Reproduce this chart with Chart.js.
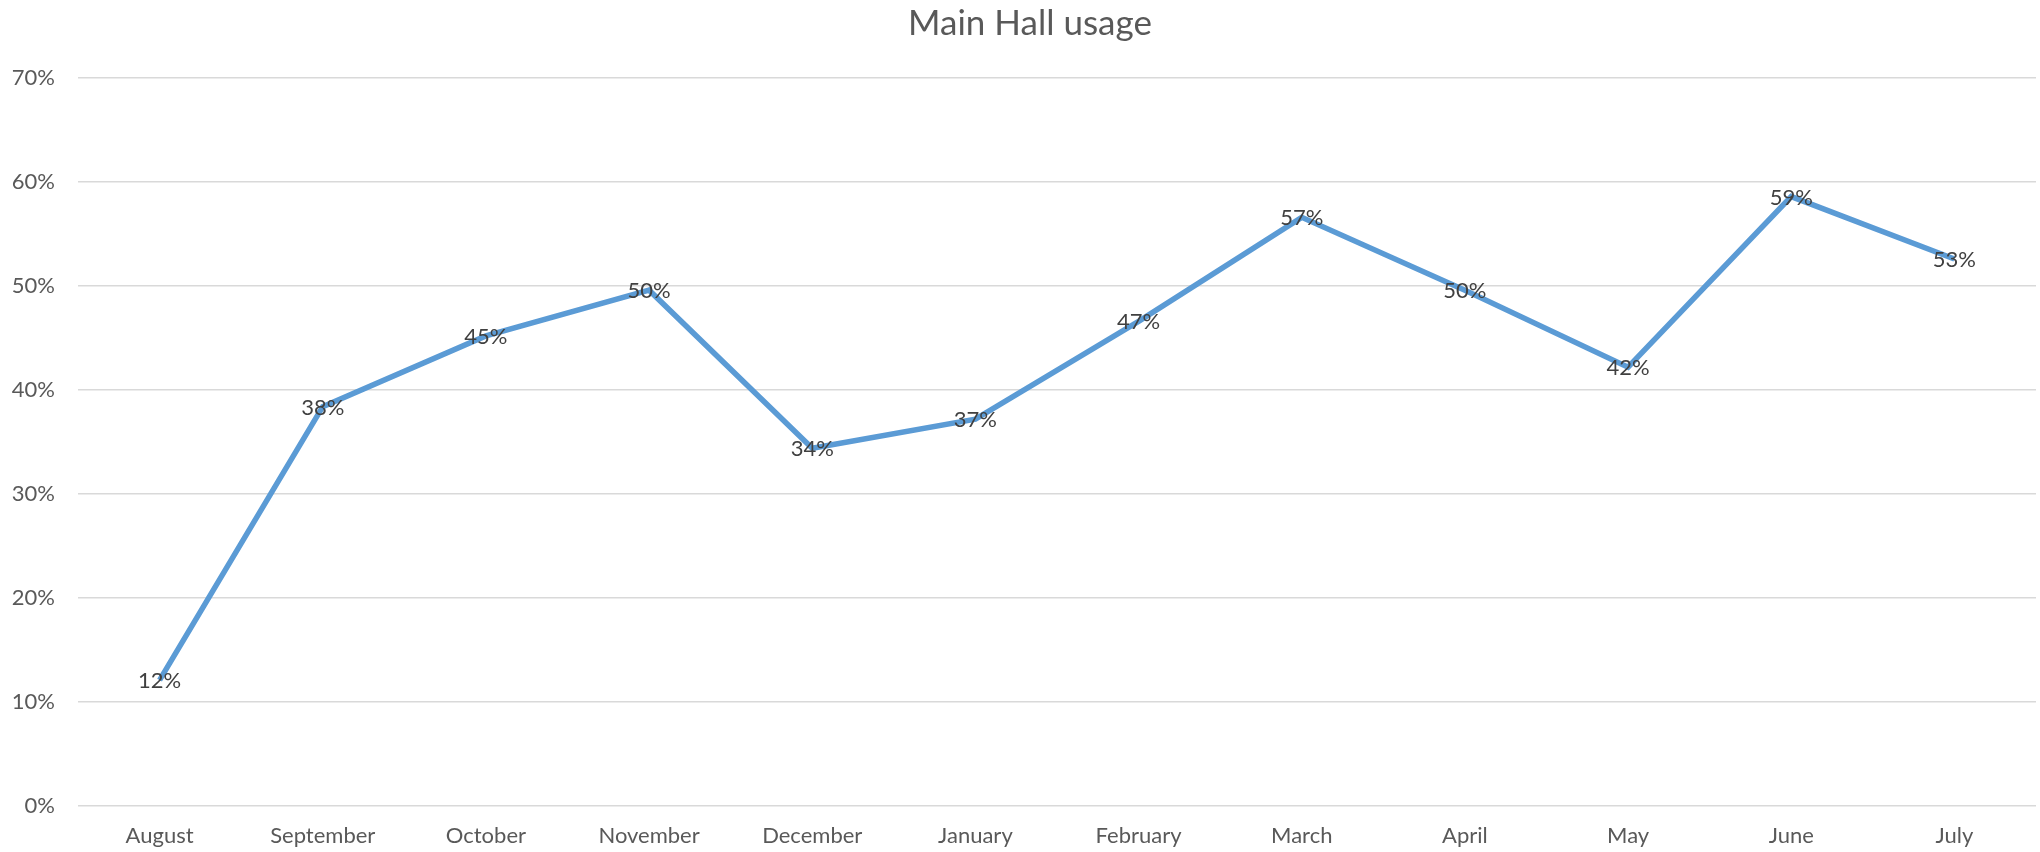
<!DOCTYPE html>
<html>
<head>
<meta charset="utf-8">
<script src="https://cdn.jsdelivr.net/npm/chart.js@4.4.1/dist/chart.umd.min.js"></script>
<style>
  html, body { margin: 0; padding: 0; background: #fff; }
  #wrap { width: 2040px; height: 852px; }
</style>
</head>
<body>
<div id="wrap"><canvas id="usageChart"></canvas></div>
<script>
const months = ['August', 'September', 'October', 'November', 'December', 'January',
  'February', 'March', 'April', 'May', 'June', 'July']
const usage = [0.121, 0.384, 0.452, 0.496, 0.344, 0.372, 0.466, 0.566, 0.496, 0.422, 0.586, 0.526]
const yTicks = [0, 0.1, 0.2, 0.3, 0.4, 0.5, 0.6, 0.7]

const pct = v => Math.round(v * 100) + '%'

// value labels centred on each point
const pointLabels = {
  id: 'pointLabels',
  afterDatasetsDraw(chart) {
    const ctx = chart.ctx
    const meta = chart.getDatasetMeta(0)
    ctx.save()
    ctx.font = '22px Lato'
    ctx.fillStyle = '#404040'
    ctx.textAlign = 'center'
    ctx.textBaseline = 'middle'
    meta.data.forEach((pt, i) => {
      ctx.fillText(pct(usage[i]), pt.x, pt.y + 1)
    })
    ctx.restore()
  }
}

// centre the title over the plot area rather than the whole canvas
const titleOverPlot = {
  id: 'titleOverPlot',
  afterLayout(chart) {
    const t = chart.titleBlock
    if (t) t.left += 24
  }
}

const ctx = document.getElementById('usageChart').getContext('2d');
const config = {
  type: 'line',
  data: {
    labels: months,
    datasets: [{
      label: 'Main Hall usage',
      data: usage,
      borderColor: '#5B9BD5',
      borderWidth: 5.5,
      pointRadius: 0,
      fill: false,
      tension: 0
    }]
  },
  options: {
    responsive: true,
    maintainAspectRatio: false,
    animation: false,
    layout: { padding: { left: 0, right: 4, top: 0, bottom: 0 } },
    scales: {
      x: {
        offset: true,
        grid: { display: false, drawTicks: false },
        border: { display: false },
        ticks: {
          color: '#595959',
          font: { family: 'Lato', size: 22 },
          padding: 17,
          maxRotation: 0
        },
        afterFit: scale => { scale.height = 46 }
      },
      y: {
        min: 0,
        max: 0.7,
        afterBuildTicks: scale => { scale.ticks = yTicks.map(v => ({ value: v })) },
        grid: { color: '#D9D9D9', lineWidth: 1.5, drawTicks: false },
        border: { display: false },
        ticks: {
          color: '#595959',
          font: { family: 'Lato', size: 22 },
          padding: 23,
          callback: v => pct(v)
        },
        afterFit: scale => { scale.width = 78 }
      }
    },
    plugins: {
      legend: { display: false },
      tooltip: { enabled: false },
      title: {
        display: true,
        text: 'Main Hall usage',
        color: '#595959',
        font: { family: 'Lato', size: 35, weight: 'normal' },
        padding: { top: 3, bottom: 33 }
      }
    }
  },
  plugins: [pointLabels, titleOverPlot]
};
new Chart(ctx, config);
</script>
</body>
</html>
